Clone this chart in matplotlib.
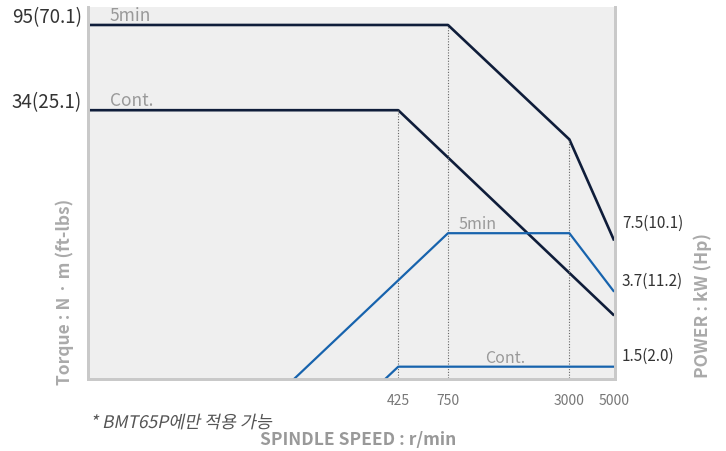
import matplotlib.pyplot as plt
from matplotlib.patheffects import AbstractPathEffect
from matplotlib.transforms import Affine2D

plt.rcParams['font.family'] = ['Noto Sans CJK KR', 'DejaVu Sans']

# 데이터
speed_ticks = [425, 750, 3000, 5000]

trq_5min_speed = [10, 750, 3000, 5000]
trq_5min = [95, 95, 23.9, 7.06]
trq_cont_speed = [10, 425, 5000]
trq_cont = [34, 34, 2.86]

pwr_5min_speed = [100, 750, 3000, 5000]
pwr_5min = [1.0, 7.5, 7.5, 3.7]
pwr_cont_speed = [300, 425, 5000]
pwr_cont = [1.06, 1.5, 1.5]

left_labels = ['95(70.1)', '34(25.1)']
left_vals = [95, 34]
right_labels = ['7.5(10.1)', '3.7(11.2)', '1.5(2.0)']
right_vals = [7.5, 3.7, 1.5]

navy = '#0f1d3a'
blue = '#1763ad'
grid_gray = '#c9c9c9'


# 기울임체 효과 (CJK 폰트에 이탤릭이 없어서)
class Slant(AbstractPathEffect):
    def __init__(self, deg=12):
        super().__init__()
        self.deg = deg

    def draw_path(self, renderer, gc, tpath, affine, rgbFace=None):
        renderer.draw_path(gc, tpath, Affine2D().skew_deg(self.deg, 0) + affine, rgbFace)


fig = plt.figure(figsize=(7.26, 4.52), dpi=100)
ax = fig.add_axes([88/726, 1-380/452, 527/726, 372/452])
ax2 = ax.twinx()

ax.set_xscale('log')
ax.set_yscale('log')
ax2.set_yscale('log')
ax.set_xlim(12.3, 5050)
ax.set_ylim(1.33, 118)
ax2.set_ylim(1.293, 114.7)
ax.set_facecolor('#efefef')

# 토크
ax.plot(trq_5min_speed, trq_5min, color=navy, lw=1.9, solid_capstyle='butt')
ax.plot(trq_cont_speed, trq_cont, color=navy, lw=1.9, solid_capstyle='butt')
# 출력
ax2.plot(pwr_5min_speed, pwr_5min, color=blue, lw=1.6, solid_capstyle='butt')
ax2.plot(pwr_cont_speed, pwr_cont, color=blue, lw=1.6, solid_capstyle='butt')

# 점선
ax.vlines([425, 750, 3000], 1.0, [34, 95, 23.9], colors='#666666',
          linestyles=(0, (1, 1.5)), lw=0.8)

for a in (ax, ax2):
    a.spines['top'].set_visible(False)
    for sp in ['left', 'right', 'bottom']:
        a.spines[sp].set_color(grid_gray)
        a.spines[sp].set_linewidth(2)

ax.set_xticks(speed_ticks)
ax.set_xticklabels([str(s) for s in speed_ticks], fontsize=10, color='#777777')
ax.xaxis.set_minor_locator(plt.NullLocator())
ax.tick_params(axis='x', length=0, pad=10)
ax.set_yticks([])
ax.yaxis.set_minor_locator(plt.NullLocator())
ax2.set_yticks([])
ax2.yaxis.set_minor_locator(plt.NullLocator())

# 좌측 라벨
for lab, v in zip(left_labels, left_vals):
    ax.annotate(lab, (0, v), xycoords=('axes fraction', 'data'),
                xytext=(-4.5, 6), textcoords='offset points',
                ha='right', va='center', fontsize=13.5, color='#333333')
# 우측 라벨
for lab, v in zip(right_labels, right_vals):
    ax2.annotate(lab, (1, v), xycoords=('axes fraction', 'data'),
                 xytext=(5, 8), textcoords='offset points',
                 ha='left', va='center', fontsize=11, color='#333333')

ax.text(15.8, 96, '5min', fontsize=12.5, color='#999999', va='bottom', ha='left')
ax.text(15.8, 34.5, 'Cont.', fontsize=12.5, color='#999999', va='bottom', ha='left')
ax2.text(1057, 7.6, '5min', fontsize=11.5, color='#999999', va='bottom', ha='center')
ax2.text(1439, 1.52, 'Cont.', fontsize=11.5, color='#999999', va='bottom', ha='center')

fig.text(65/726, 1-292/452, 'Torque : N · m (ft-lbs)', rotation=90, ha='center',
         va='center', fontsize=12.5, fontweight='bold', color='#aaaaaa')
fig.text(703/726, 1-306/452, 'POWER : kW (Hp)', rotation=90, ha='center',
         va='center', fontsize=12.5, fontweight='bold', color='#aaaaaa')
fig.text(358/726, 1-440/452, 'SPINDLE SPEED : r/min', ha='center', va='center',
         fontsize=12.5, fontweight='bold', color='#999999')
fig.text(90/726, 1-424/452, '* BMT65P에만 적용 가능', ha='left', va='center',
         fontsize=12.5, color='#555555', path_effects=[Slant(12)])

fig.savefig('out.png', dpi=100)
